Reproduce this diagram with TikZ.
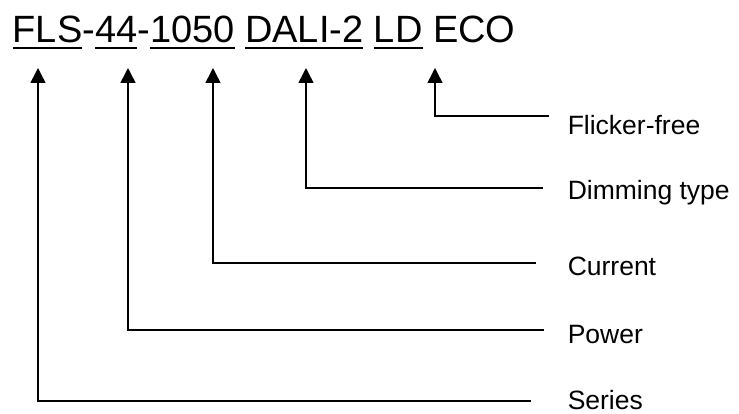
\documentclass[tikz,border=0pt]{standalone}
\usepackage{fontspec}
\setmainfont{Liberation Sans}
\usetikzlibrary{arrows.meta}
\newcommand\ulseg[1]{\setbox0=\hbox{#1}\rlap{\rule[-5.75pt]{\wd0}{1.5pt}}\box0\relax}
\begin{document}
\begin{tikzpicture}[x=1pt,y=-1pt,line width=1.5pt,
  arr/.style={-{Triangle[width=15pt,length=15pt]}},
  lbl/.style={anchor=base west,inner sep=0pt,font=\fontsize{26.5}{26.5}\selectfont},
  titlestyle/.style={anchor=base west,inner sep=0pt,font=\fontsize{38}{38}\selectfont}]
\useasboundingbox (0,0) rectangle (739,414);
\node[titlestyle] (title) at (12,43)
  {\ulseg{FLS}-\ulseg{44}-\ulseg{1050} \ulseg{DALI-2} \ulseg{LD} ECO};
% labels
\node[lbl] (flicker) at (567,135) {Flicker-free};
\node[lbl] (dimming) at (567,200) {Dimming type};
\node[lbl] (current) at (567,275) {Current};
\node[lbl] (power) at (567,343) {Power};
\node[lbl] (series) at (567,409) {Series};
% arrow tips
\coordinate (tS) at (38,68);
\coordinate (tP) at (128,68);
\coordinate (tC) at (213,68);
\coordinate (tD) at (306,68);
\coordinate (tF) at (435,68);
% line ends
\coordinate (eF) at (549,116);
\coordinate (eD) at (543,188);
\coordinate (eC) at (536,263);
\coordinate (eP) at (544,330);
\coordinate (eS) at (531,401);
\draw[arr] (eF) -| (tF);
\draw[arr] (eD) -| (tD);
\draw[arr] (eC) -| (tC);
\draw[arr] (eP) -| (tP);
\draw[arr] (eS) -| (tS);
\end{tikzpicture}
\end{document}
